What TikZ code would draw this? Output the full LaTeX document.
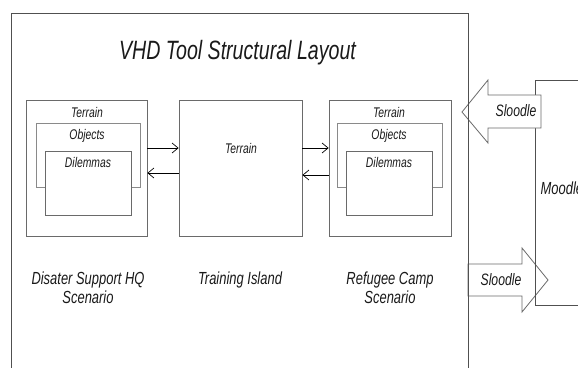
\documentclass[tikz,border=0pt]{standalone}
\usepackage{fontspec}
\setmainfont{Liberation Sans}[FakeStretch=0.74]
\usetikzlibrary{arrows.meta}
\definecolor{outerline}{HTML}{505050}
\definecolor{boxline}{HTML}{6A6A6A}
\definecolor{objline}{HTML}{8A8A8A}
\definecolor{txt}{HTML}{1A1A1A}
\tikzset{
  box/.style={draw=boxline, line width=0.8pt, rectangle, inner sep=0pt, fill=white},
  objbox/.style={draw=objline, line width=0.8pt, rectangle, inner sep=0pt, fill=white},
  small/.style={text=txt, font=\fontsize{14}{16}\selectfont\itshape, anchor=base, inner sep=0pt},
  lbl/.style={text=txt, font=\fontsize{17.5}{19}\selectfont\itshape, align=center, anchor=base, inner sep=0pt},
  conn/.style={draw=black, line width=0.7pt, -{Straight Barb[length=6pt,width=10pt]}},
  fat/.style={draw=boxline, line width=0.8pt, fill=white, line join=miter},
}
\begin{document}
\begin{tikzpicture}[x=1pt, y=-1pt]
\useasboundingbox (0,0) rectangle (578,367);
\fill[white] (0,0) rectangle (578,367);

% bottom Sloodle arrow (under Moodle box)
\draw[fat] (468,264) -- (522,264) -- (522,248) -- (548,280) -- (522,312) -- (522,296) -- (468,296) -- cycle;
\node[text=txt, font=\fontsize{16.5}{18}\selectfont\itshape, inner sep=0pt, anchor=base] (slb) at (501,285.5) {Sloodle};

% Moodle box
\coordinate (mtr) at (580,80);
\coordinate (mtl) at (535,80);
\coordinate (mbl) at (535,305);
\coordinate (mbr) at (580,305);
\draw[outerline, line width=0.8pt] (mtr) -- (mtl) -- (mbl) -- (mbr);
\node[text=txt, font=\fontsize{17.5}{20}\selectfont\itshape, inner sep=0pt, anchor=base west] (moodle) at (540.5,194) {Moodle};

% top Sloodle arrow (over Moodle box)
\draw[fat] (541,95) -- (488,95) -- (488,80) -- (462,112) -- (488,143) -- (488,128) -- (541,128) -- cycle;
\node[text=txt, font=\fontsize{16.5}{18}\selectfont\itshape, inner sep=0pt, anchor=base] (slt) at (516,116) {Sloodle};

% outer box
\coordinate (obl) at (11,370);
\coordinate (otl) at (11,13);
\coordinate (otr) at (468,13);
\coordinate (obr) at (468,370);
\draw[outerline, line width=0.8pt] (obl) -- (otl) -- (otr) -- (obr);

\node[text=txt, font=\fontsize{26.5}{30}\selectfont\itshape, inner sep=0pt, anchor=base] (title) at (237.5,59) {VHD Tool Structural Layout};

% left scenario
\node[box, minimum width=121pt, minimum height=136pt] (lbox) at (86.5,168) {};
\node[objbox, minimum width=104pt, minimum height=64pt] (lobj) at (88,155) {};
\node[box, minimum width=86pt, minimum height=64pt] (ldil) at (88,183) {};
\node[small] (lter) at (87,117) {Terrain};
\node[small] (lobt) at (87,139) {Objects};
\node[small] (ldit) at (88,167) {Dilemmas};

% middle
\node[box, minimum width=123pt, minimum height=136pt] (mid) at (240.5,168) {};
\node[small] (mter) at (241,153) {Terrain};

% right scenario
\node[box, minimum width=122pt, minimum height=136pt] (rbox) at (390,168) {};
\node[objbox, minimum width=105pt, minimum height=64pt] (robj) at (389.5,155) {};
\node[box, minimum width=86pt, minimum height=64pt] (rdil) at (389,183) {};
\node[small] (rter) at (389,117) {Terrain};
\node[small] (robt) at (389,139) {Objects};
\node[small] (rdit) at (389,167) {Dilemmas};

% connectors
\draw[conn] (lbox.east |- 0,148) -- (mid.west |- 0,148);
\draw[conn] (mid.west |- 0,173) -- (lbox.east |- 0,173);
\draw[conn] (mid.east |- 0,148) -- (rbox.west |- 0,148);
\draw[conn] (rbox.west |- 0,175) -- (mid.east |- 0,175);

% labels
\node[lbl] (llab) at (88,303) {Disater Support HQ\\Scenario};
\node[lbl] (mlab) at (240,284) {Training Island};
\node[lbl] (rlab) at (390,303) {Refugee Camp\\Scenario};
\end{tikzpicture}
\end{document}
